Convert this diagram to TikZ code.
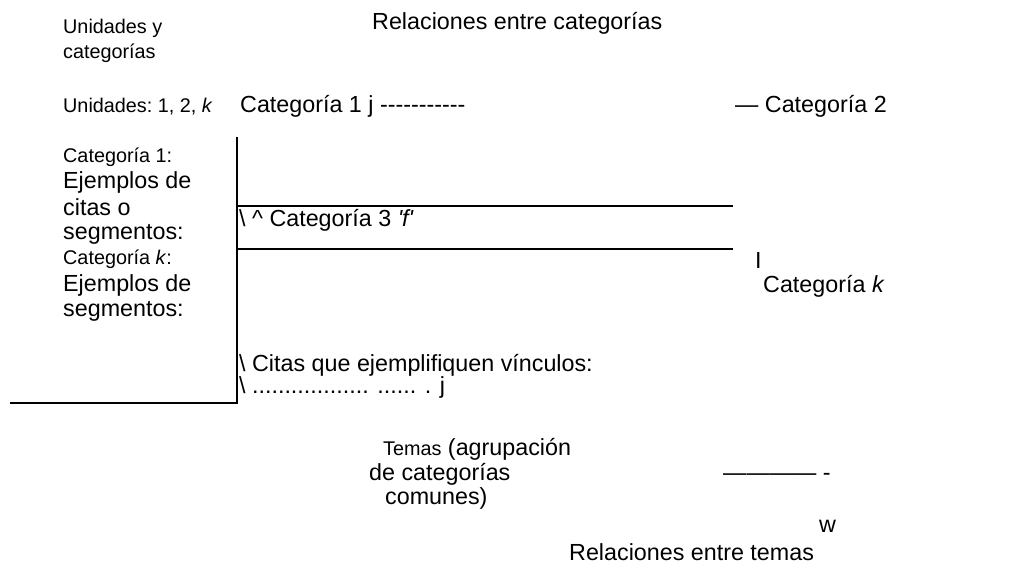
\documentclass[tikz,border=0pt]{standalone}
\usepackage{fontspec}
\setmainfont{Liberation Sans}
\begin{document}
\begin{tikzpicture}[x=1pt,y=-1pt,
  big/.style={anchor=base west,inner sep=0pt,font=\fontsize{23.3}{27}\selectfont},
  small/.style={anchor=base west,inner sep=0pt,font=\fontsize{19.8}{23}\selectfont},
  rule/.style={line width=1.6pt,black}]
\useasboundingbox[fill=white] (0,0) rectangle (1028,572);
% header
\node[small] (uy) at (63,34) {Unidades y};
\node[small] (uc) at (63,59) {categorías};
\node[big] (rel) at (372,30) {Relaciones entre categorías};
% row
\node[small] (un) at (63,113) {Unidades:\ 1, 2, \textit{k}};
\node[big] (c1) at (240,113) {Categoría 1 j -{}-{}-{}-{}-{}-{}-{}-{}-{}-{}-};
\node[big] (c2) at (735,113) {— Categoría 2};
% left column
\node[small] (lc1) at (63,163) {Categoría 1:};
\node[big] (le1) at (63,189) {Ejemplos de};
\node[big] (le2) at (63,215) {citas o};
\node[big] (le3) at (63,240) {segmentos:};
\node[small] (lck) at (63,264) {Categoría \textit{k}:};
\node[big] (le4) at (63,291) {Ejemplos de};
\node[big] (le5) at (63,316) {segmentos:};
% lines
\coordinate (vt) at (237,137);
\coordinate (vb) at (237,403);
\coordinate (hl) at (10,403);
\coordinate (h1a) at (237,206);
\coordinate (h1b) at (733,206);
\coordinate (h2a) at (237,249);
\coordinate (h2b) at (733,249);
\draw[rule] (vt) -- (vb) -- (hl);
\draw[rule] (h1a) -- (h1b);
\draw[rule] (h2a) -- (h2b);
% middle texts
\node[big] (c3) at (239,227) {\textbackslash{} \textasciicircum{} Categoría 3 \textit{\textquotesingle f\textquotesingle}};
\node[big] (bar) at (755,268) {I};
\node[big] (ck) at (763,292) {Categoría \textit{k}};
\node[big] (cit) at (239,371) {\textbackslash{} Citas que ejemplifiquen vínculos:};
\node[big] (dots) at (239,393) {\textbackslash{} .................. ...... . j};
% themes
\node[big] (t1) at (383,455) {{\fontsize{19.8}{23}\selectfont Temas} (agrupación};
\node[big] (t2) at (369,480) {de categorías};
\node[big] (t3) at (385,504) {comunes)};
\node[big] (dash) at (723,480) {———— -};
\node[big] (w) at (819,532) {w};
\node[big] (rt) at (569,560) {Relaciones entre temas};
\end{tikzpicture}
\end{document}
